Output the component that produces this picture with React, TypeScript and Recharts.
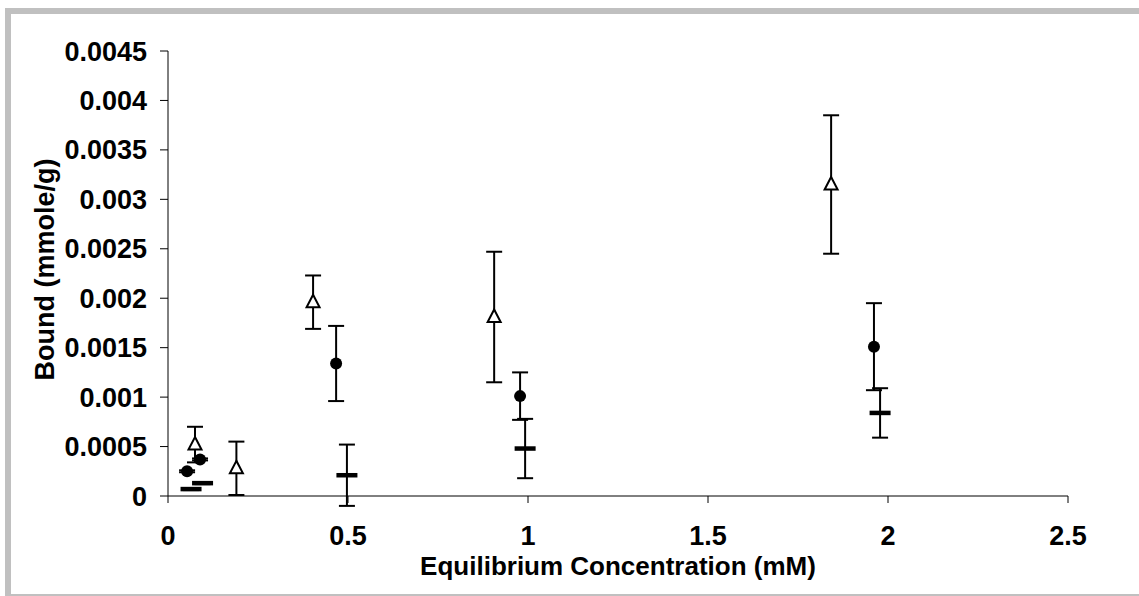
import { ErrorBar, Label, Scatter, ScatterChart, XAxis, YAxis } from "recharts"

// open triangles
const triX = [0.075, 0.19, 0.403, 0.906, 1.842]
const triY = [0.00052, 0.00028, 0.00196, 0.00181, 0.00315]
const triErr = [0.00018, 0.00027, 0.00027, 0.00066, 0.0007]

// filled circles
const dotX = [0.053, 0.089, 0.467, 0.978, 1.961]
const dotY = [0.00025, 0.00037, 0.00134, 0.00101, 0.00151]
const dotErr = [0.00001, 0.00001, 0.00038, 0.00024, 0.00044]

// dashes
const dashX = [0.064, 0.096, 0.497, 0.992, 1.978]
const dashY = [0.00007, 0.00013, 0.00021, 0.00048, 0.00084]
const dashErr = [0.00001, 0.00001, 0.00031, 0.0003, 0.00025]

const xTicks = [0, 0.5, 1, 1.5, 2, 2.5]
const yTicks = [0, 0.0005, 0.001, 0.0015, 0.002, 0.0025, 0.003, 0.0035, 0.004, 0.0045]

const toPoints = (xs: number[], ys: number[], errs: number[]) =>
  xs.map((x, i) => ({ x, y: ys[i], err: errs[i] }))

const FONT = '"Liberation Sans", Arial, sans-serif'

const Triangle = (props: any) => {
  const { cx, cy } = props
  return (
    <path
      d={`M${cx},${cy - 7.5} L${cx + 6.5},${cy + 5} L${cx - 6.5},${cy + 5} Z`}
      fill="#fff"
      stroke="#000"
      strokeWidth={2}
    />
  )
}

const Dot = (props: any) => <circle cx={props.cx} cy={props.cy} r={6} fill="#000" />

const Dash = (props: any) => (
  <rect x={props.cx - 10.5} y={props.cy - 2.25} width={21} height={4.5} fill="#000" />
)

const tickStyle = { fill: "#000", fontSize: 27, fontWeight: 700, fontFamily: FONT }

export default function App() {
  return (
    <div
      style={{
        position: "absolute",
        left: 0,
        top: 0,
        width: 1139,
        height: 596,
        overflow: "hidden",
        background: "#fff",
      }}
    >
      <div
        style={{
          position: "absolute",
          left: 5,
          top: 8,
          width: 1200,
          height: 592,
          border: "6px solid #c0c0c0",
          boxSizing: "border-box",
        }}
      />
      <div style={{ position: "absolute", left: 0, top: 0 }}>
        <ScatterChart width={1139} height={596} margin={{ top: 51, right: 71, bottom: 0, left: 0 }}>
          <XAxis
            type="number"
            dataKey="x"
            domain={[0, 2.5]}
            ticks={xTicks}
            height={100}
            tickSize={7}
            tickMargin={23}
            axisLine={{ stroke: "#000" }}
            tickLine={{ stroke: "#000" }}
            tick={tickStyle}
            allowDataOverflow
          >
            <Label
              value="Equilibrium Concentration (mM)"
              position="insideBottom"
              offset={21}
              fill="#000"
              fontSize={26}
              fontWeight={700}
              fontFamily={FONT}
            />
          </XAxis>
          <YAxis
            type="number"
            dataKey="y"
            domain={[0, 0.0045]}
            ticks={yTicks}
            width={168}
            tickSize={8}
            tickMargin={13}
            axisLine={{ stroke: "#000" }}
            tickLine={{ stroke: "#000" }}
            tick={tickStyle}
            allowDataOverflow
          >
            <Label
              content={(p: any) => {
                const vb = p.viewBox || { x: 0, y: 51, width: 168, height: 445 }
                const lx = vb.x + 54
                const ly = vb.y + vb.height / 2 - 4
                return (
                  <text
                    x={lx}
                    y={ly}
                    transform={`rotate(-90 ${lx} ${ly})`}
                    textAnchor="middle"
                    fill="#000"
                    fontSize={27}
                    fontWeight={700}
                    fontFamily={FONT}
                  >
                    Bound (mmole/g)
                  </text>
                )
              }}
            />
          </YAxis>
          <Scatter data={toPoints(triX, triY, triErr)} shape={Triangle} isAnimationActive={false}>
            <ErrorBar dataKey="err" direction="y" width={8} stroke="#000" strokeWidth={2} />
          </Scatter>
          <Scatter data={toPoints(dotX, dotY, dotErr)} shape={Dot} isAnimationActive={false}>
            <ErrorBar dataKey="err" direction="y" width={8} stroke="#000" strokeWidth={2} />
          </Scatter>
          <Scatter data={toPoints(dashX, dashY, dashErr)} shape={Dash} isAnimationActive={false}>
            <ErrorBar dataKey="err" direction="y" width={8} stroke="#000" strokeWidth={2} />
          </Scatter>
        </ScatterChart>
      </div>
    </div>
  )
}
